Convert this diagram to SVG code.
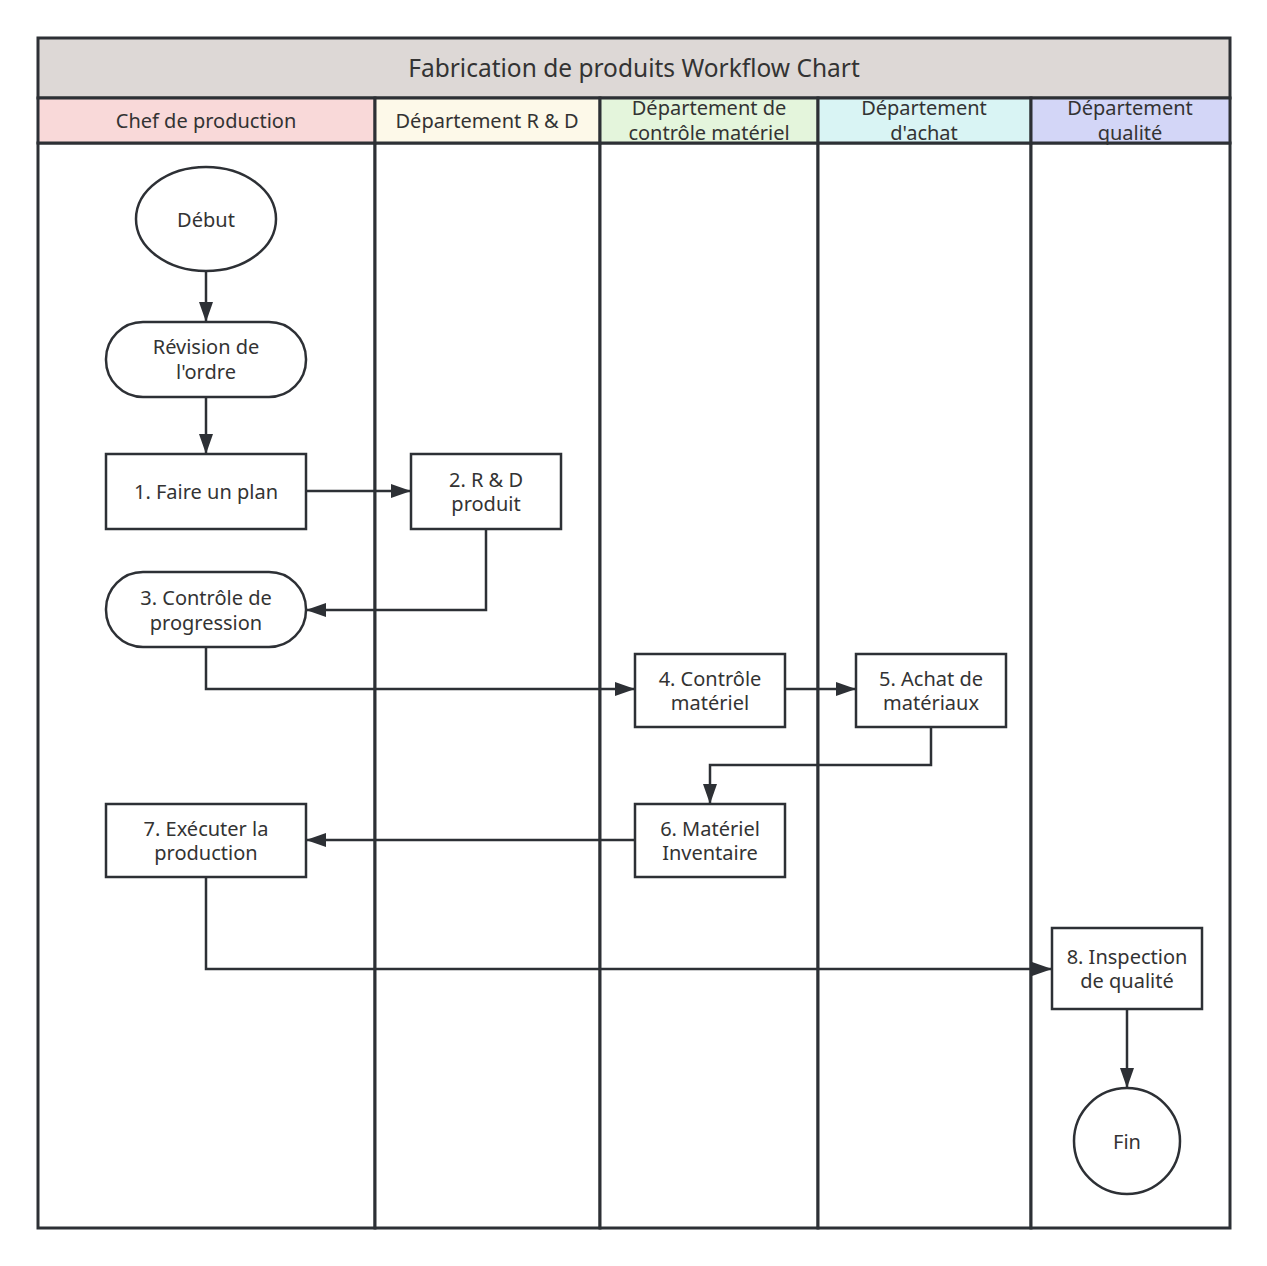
<svg xmlns="http://www.w3.org/2000/svg" width="1267" height="1266" viewBox="0 0 1267 1266">
<style>
.lane{fill:#fff;stroke:#2d3035;stroke-width:3}
.hdr{stroke:#2d3035;stroke-width:3}
.node{fill:#fff;stroke:#2d3035;stroke-width:2.5}
.t{font-family:"Noto Sans","Open Sans",sans-serif;font-size:20px;fill:#333;text-anchor:middle}
.title{font-family:"Noto Sans","Open Sans",sans-serif;font-size:24.5px;fill:#333;text-anchor:middle}
.c{fill:none;stroke:#2d3035;stroke-width:2.5}
</style>
<defs>
<marker id="ah" viewBox="0 0 20 14" refX="20" refY="7" markerWidth="20" markerHeight="14" markerUnits="userSpaceOnUse" orient="auto">
<path d="M0,0 L20,7 L0,14 Z" fill="#2d3035"/>
</marker>
</defs>
<rect width="1267" height="1266" fill="#fff"/>
<g id="pool">
<rect x="38" y="38" width="1192" height="60" fill="#ddd8d6" class="hdr"/>
<text class="title" x="634" y="77">Fabrication de produits Workflow Chart</text>
<rect class="lane" x="38" y="143" width="337" height="1085"/>
<rect class="lane" x="375" y="143" width="225" height="1085"/>
<rect class="lane" x="600" y="143" width="218" height="1085"/>
<rect class="lane" x="818" y="143" width="213" height="1085"/>
<rect class="lane" x="1031" y="143" width="199" height="1085"/>
<rect class="hdr" x="38" y="98" width="337" height="45" fill="#f9d9d9"/>
<rect class="hdr" x="375" y="98" width="225" height="45" fill="#fdf9e9"/>
<rect class="hdr" x="600" y="98" width="218" height="45" fill="#e4f5dc"/>
<rect class="hdr" x="818" y="98" width="213" height="45" fill="#d9f4f4"/>
<rect class="hdr" x="1031" y="98" width="199" height="45" fill="#d3d6f7"/>
<text class="t" x="206" y="128">Chef de production</text>
<text class="t" x="487" y="128">Département R &amp; D</text>
<text class="t" x="709" y="115">Département de</text>
<text class="t" x="709" y="140">contrôle matériel</text>
<text class="t" x="924" y="115">Département</text>
<text class="t" x="924" y="140">d'achat</text>
<text class="t" x="1130" y="115">Département</text>
<text class="t" x="1130" y="140">qualité</text>
</g>
<g id="connectors">
<path class="c" d="M206,271 V322" marker-end="url(#ah)"/>
<path class="c" d="M206,397 V454" marker-end="url(#ah)"/>
<path class="c" d="M306,491 H411" marker-end="url(#ah)"/>
<path class="c" d="M486,529 V610 H306" marker-end="url(#ah)"/>
<path class="c" d="M206,647 V689 H635" marker-end="url(#ah)"/>
<path class="c" d="M785,689 H856" marker-end="url(#ah)"/>
<path class="c" d="M931,727 V765 H710 V804" marker-end="url(#ah)"/>
<path class="c" d="M635,840 H306" marker-end="url(#ah)"/>
<path class="c" d="M206,877 V969 H1052" marker-end="url(#ah)"/>
<path class="c" d="M1127,1009 V1088" marker-end="url(#ah)"/>
</g>
<g id="debut">
<ellipse class="node" cx="206" cy="219" rx="70" ry="52"/>
<text class="t" x="206" y="227">Début</text>
</g>
<g id="revision">
<rect class="node" x="106" y="322" width="200" height="75" rx="37" ry="37"/>
<text class="t" x="206" y="354">Révision de</text>
<text class="t" x="206" y="379">l'ordre</text>
</g>
<g id="n1">
<rect class="node" x="106" y="454" width="200" height="75"/>
<text class="t" x="206" y="499">1. Faire un plan</text>
</g>
<g id="n2">
<rect class="node" x="411" y="454" width="150" height="75"/>
<text class="t" x="486" y="487">2. R &amp; D</text>
<text class="t" x="486" y="511">produit</text>
</g>
<g id="n3">
<rect class="node" x="106" y="572" width="200" height="75" rx="37" ry="37"/>
<text class="t" x="206" y="605">3. Contrôle de</text>
<text class="t" x="206" y="630">progression</text>
</g>
<g id="n4">
<rect class="node" x="635" y="654" width="150" height="73"/>
<text class="t" x="710" y="686">4. Contrôle</text>
<text class="t" x="710" y="710">matériel</text>
</g>
<g id="n5">
<rect class="node" x="856" y="654" width="150" height="73"/>
<text class="t" x="931" y="686">5. Achat de</text>
<text class="t" x="931" y="710">matériaux</text>
</g>
<g id="n6">
<rect class="node" x="635" y="804" width="150" height="73"/>
<text class="t" x="710" y="836">6. Matériel</text>
<text class="t" x="710" y="860">Inventaire</text>
</g>
<g id="n7">
<rect class="node" x="106" y="804" width="200" height="73"/>
<text class="t" x="206" y="836">7. Exécuter la</text>
<text class="t" x="206" y="860">production</text>
</g>
<g id="n8">
<rect class="node" x="1052" y="928" width="150" height="81"/>
<text class="t" x="1127" y="964">8. Inspection</text>
<text class="t" x="1127" y="988">de qualité</text>
</g>
<g id="fin">
<circle class="node" cx="1127" cy="1141" r="53"/>
<text class="t" x="1127" y="1149">Fin</text>
</g>
</svg>
